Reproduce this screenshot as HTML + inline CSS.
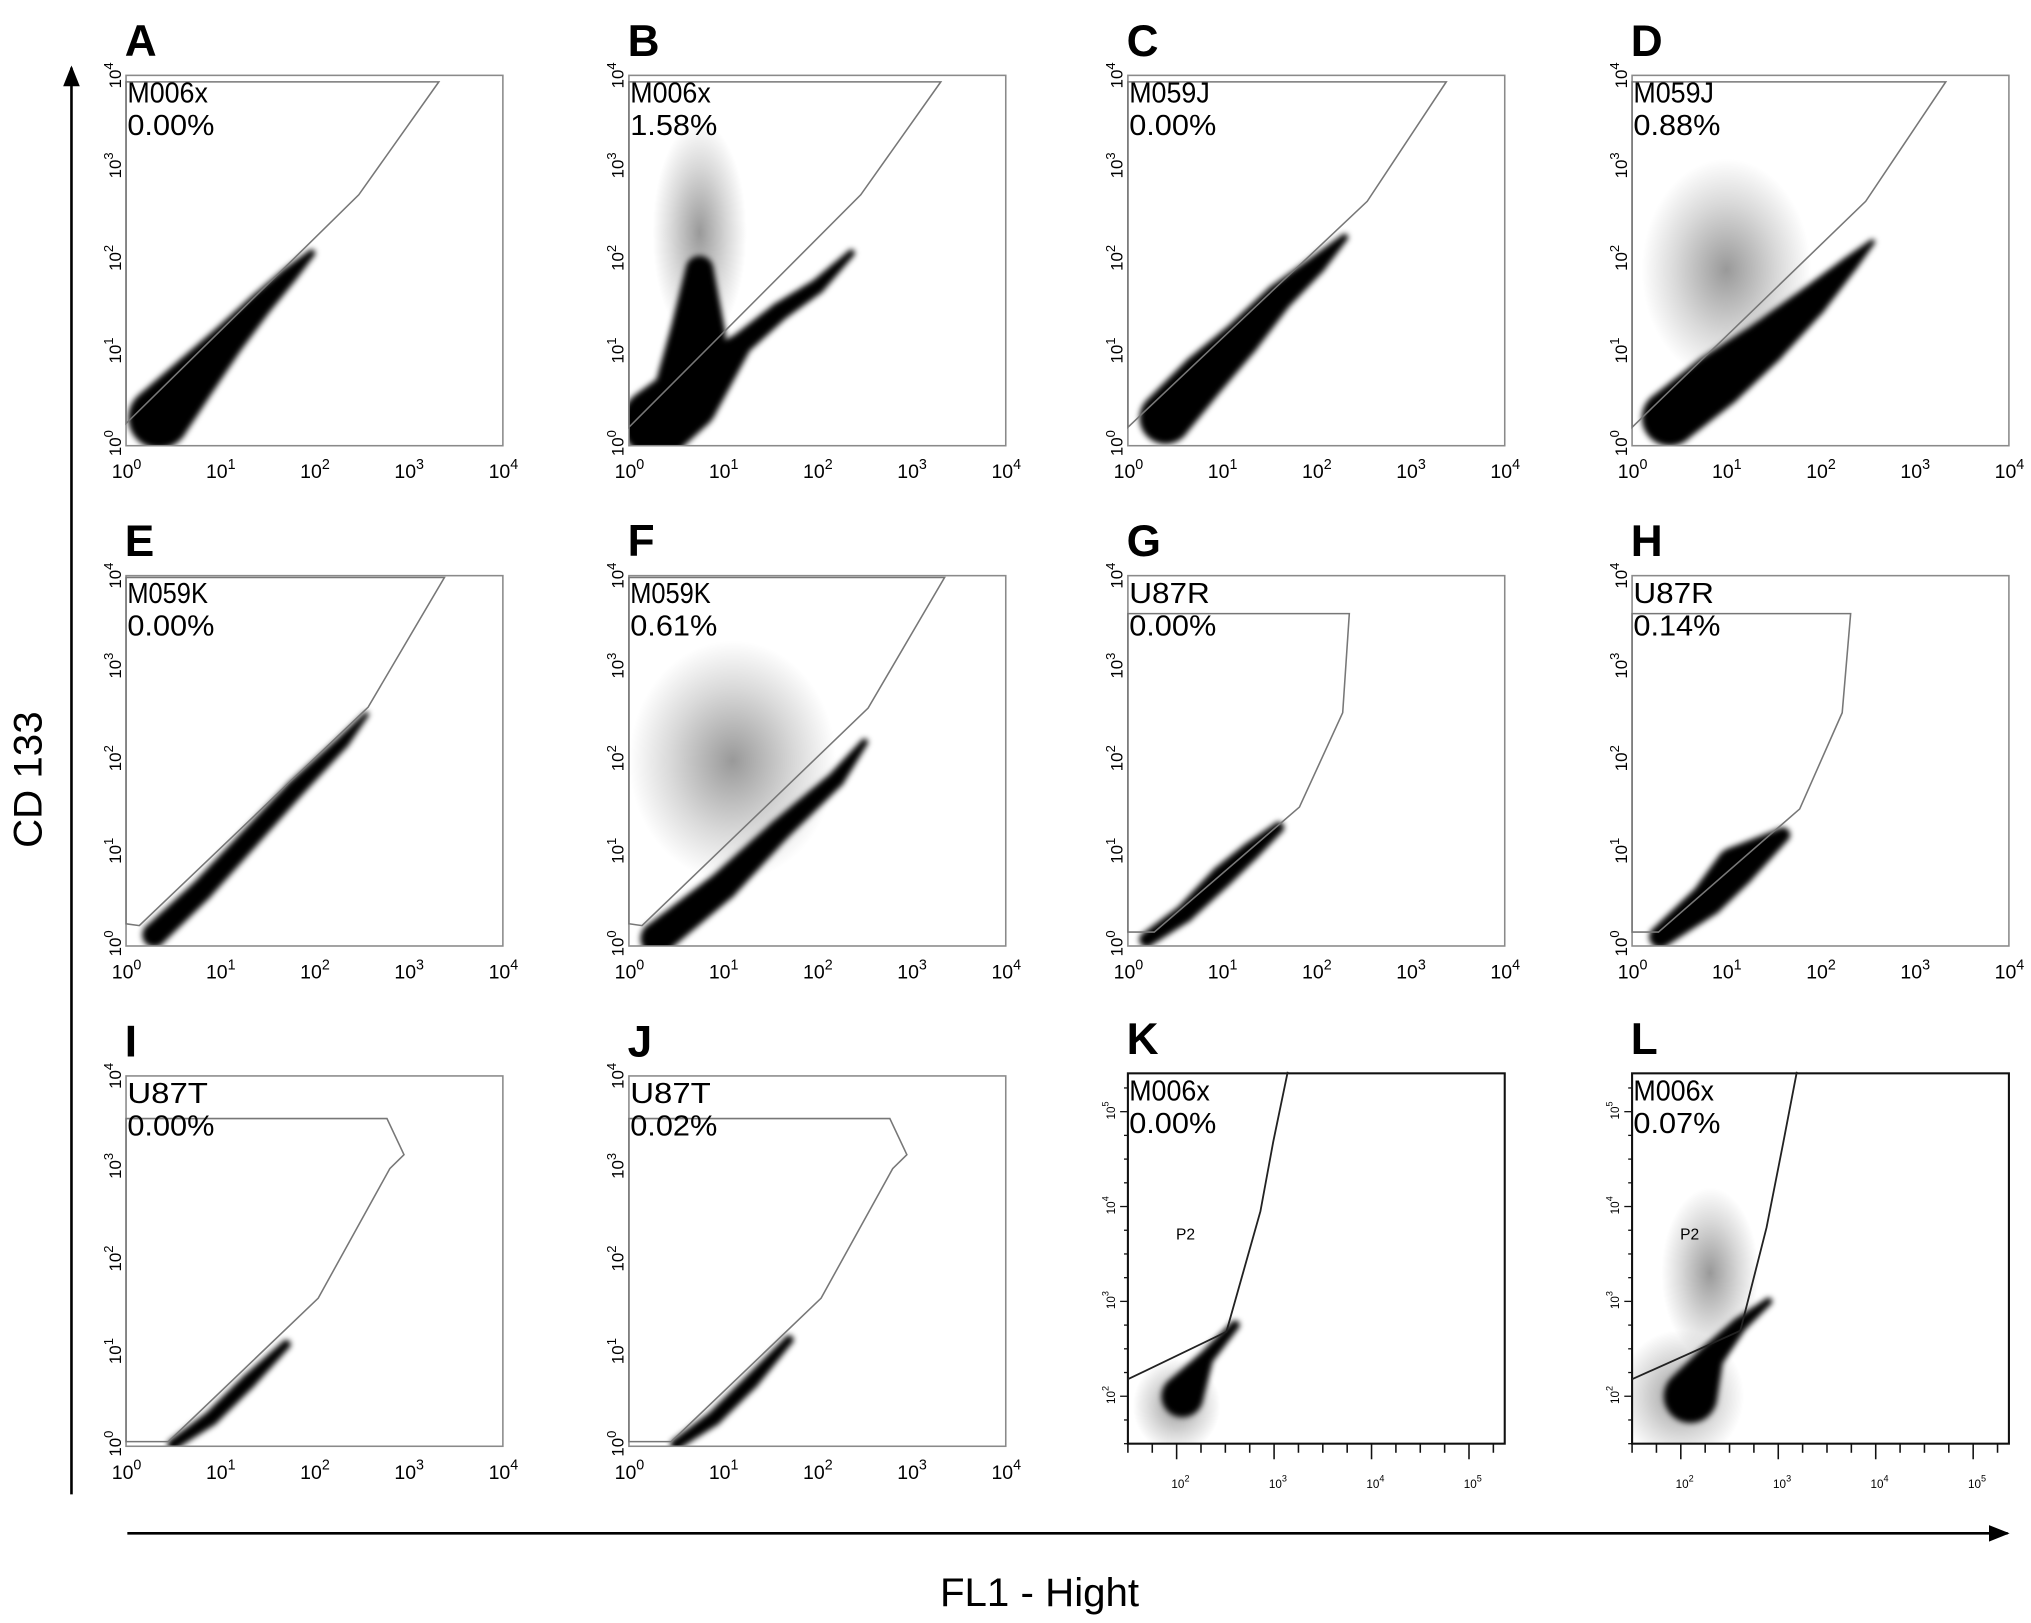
<!DOCTYPE html>
<html><head><meta charset="utf-8"><style>
html,body{margin:0;padding:0;background:#fff;}
svg{display:block;}
text{font-family:"Liberation Sans",sans-serif;}
</style></head><body>
<svg id="fig" width="2031" height="1623" viewBox="0 0 1563 1249" preserveAspectRatio="none" xmlns="http://www.w3.org/2000/svg">
<defs>
<filter id="blur" x="-20%" y="-20%" width="140%" height="140%"><feGaussianBlur stdDeviation="2.2"/></filter>
<radialGradient id="faint"><stop offset="0" stop-color="#000" stop-opacity="0.4"/><stop offset="0.6" stop-color="#000" stop-opacity="0.15"/><stop offset="1" stop-color="#000" stop-opacity="0"/></radialGradient>
<marker id="arr" viewBox="0 0 10 10" refX="9" refY="5" markerWidth="8" markerHeight="8" orient="auto"><path d="M0,1 L10,5 L0,9 z" fill="#000"/></marker>
</defs>
<line x1="55" y1="1150" x2="55" y2="52" stroke="#000" stroke-width="2" marker-end="url(#arr)"/>
<line x1="98" y1="1180" x2="1545" y2="1180" stroke="#000" stroke-width="2" marker-end="url(#arr)"/>
<text x="0" y="0" font-size="31" text-anchor="middle" transform="translate(32,600) rotate(-90)">CD 133</text>
<text x="800" y="1236" font-size="31" text-anchor="middle">FL1 - Hight</text>
<g id="panels"></g>
</svg>
<script>
// ---- data (log10 decades) ----
const panelLetters = ["A","B","C","D","E","F","G","H","I","J","K","L"];
const sampleNames = ["M006x","M006x","M059J","M059J","M059K","M059K","U87R","U87R","U87T","U87T","M006x","M006x"];
const percentages = ["0.00%","1.58%","0.00%","0.88%","0.00%","0.61%","0.00%","0.14%","0.00%","0.02%","0.00%","0.07%"];
const tickLabelsStd = ["0","1","2","3","4"];
const tickLabelsDiva = ["2","3","4","5"];
const gates = [
 [[0,0.24],[2.47,2.71],[3.32,3.93],[0,3.93]],
 [[0,0.2],[2.46,2.71],[3.31,3.93],[0,3.93]],
 [[0,0.2],[2.54,2.64],[3.38,3.93],[0,3.93]],
 [[0,0.2],[2.48,2.64],[3.33,3.93],[0,3.93]],
 [[0,0.24],[0.14,0.22],[2.57,2.58],[3.38,3.98],[0,3.98]],
 [[0,0.24],[0.14,0.22],[2.54,2.57],[3.35,3.98],[0,3.98]],
 [[0,0.15],[0.28,0.15],[1.82,1.5],[2.28,2.52],[2.35,3.59],[0,3.59]],
 [[0,0.15],[0.28,0.15],[1.78,1.48],[2.23,2.52],[2.32,3.59],[0,3.59]],
 [[0,0.05],[0.45,0.05],[2.04,1.6],[2.8,3.0],[2.95,3.15],[2.77,3.54],[0,3.54]],
 [[0,0.05],[0.45,0.05],[2.04,1.6],[2.8,3.0],[2.95,3.15],[2.77,3.54],[0,3.54]],
 [[1.5,2.18],[2.51,2.68],[2.86,3.95],[2.99,4.68],[3.14,5.42]],
 [[1.5,2.18],[2.61,2.69],[2.88,3.78],[3.05,4.67],[3.19,5.42]]
];
// dense population centerlines: [x, y, spread]
const clouds = [
 [[0.35,0.3,0.33],[0.73,0.74,0.25],[1.08,1.14,0.18],[1.42,1.52,0.13],[1.72,1.83,0.09],[1.97,2.08,0.04]],
 [[0.3,0.25,0.38],[0.6,0.5,0.36],[0.73,1.2,0.3],[0.75,1.9,0.15],[1.19,1.1,0.12],[1.6,1.45,0.1],[2.0,1.72,0.08],[2.36,2.08,0.04]],
 [[0.4,0.3,0.28],[0.8,0.75,0.25],[1.2,1.15,0.2],[1.6,1.6,0.15],[2.0,1.95,0.1],[2.3,2.25,0.04]],
 [[0.4,0.3,0.3],[0.9,0.7,0.3],[1.4,1.1,0.24],[1.9,1.55,0.17],[2.3,1.95,0.09],[2.55,2.2,0.03]],
 [[0.3,0.12,0.13],[0.8,0.6,0.12],[1.3,1.15,0.11],[1.8,1.7,0.1],[2.3,2.2,0.07],[2.55,2.5,0.03]],
 [[0.3,0.08,0.18],[1.0,0.65,0.16],[1.6,1.25,0.12],[2.2,1.8,0.09],[2.5,2.2,0.04]],
 [[0.2,0.07,0.08],[0.6,0.35,0.1],[1.0,0.75,0.12],[1.3,1.02,0.1],[1.6,1.28,0.06]],
 [[0.3,0.1,0.12],[0.8,0.5,0.18],[1.1,0.85,0.22],[1.6,1.2,0.08]],
 [[0.5,0.02,0.06],[0.9,0.3,0.08],[1.3,0.7,0.08],[1.7,1.1,0.05]],
 [[0.5,0.02,0.06],[0.9,0.3,0.08],[1.3,0.7,0.08],[1.7,1.15,0.05]],
 [[2.06,2.0,0.22],[2.3,2.4,0.08],[2.6,2.75,0.05]],
 [[2.1,2.0,0.28],[2.3,2.4,0.14],[2.6,2.75,0.08],[2.9,3.0,0.04]]
];
// faint off-diagonal populations: [x, y, spreadX, spreadY]
const faintClouds = [
 [], [[0.75,2.3,0.5,1.2]], [], [[1.0,1.9,0.9,1.2]],
 [], [[1.1,2.0,1.1,1.3]], [], [],
 [], [], [[2.0,1.9,0.45,0.5]], [[2.0,2.0,0.65,0.7],[2.3,3.3,0.5,0.9]]
];
// ---- layout ----
const colX = [97,484,868,1256];
const rowY = [58,443,828];
const BW = 290, BH = 285;
const NS = "http://www.w3.org/2000/svg";
function mk(tag, attrs, parent){const e=document.createElementNS(NS,tag);for(const k in attrs)e.setAttribute(k,attrs[k]);parent.appendChild(e);return e;}
const root = document.getElementById("panels");
for(let i=0;i<12;i++){
  const bx=colX[i%4], by=rowY[Math.floor(i/4)] - (i>=10?2:0);
  const diva = i>=10;
  const x0 = diva?1.5:0, y0 = diva?1.5:0;
  const dx = diva?75:BW/4, dy = diva?73:BH/4;
  const sx = v => bx + (v-x0)*dx;
  const sy = v => by + BH - (v-y0)*dy;
  const g = mk("g",{},root);
  
  
  const clipId="clip"+i;
  const cp=mk("clipPath",{id:clipId},g); mk("rect",{x:bx,y:by,width:BW,height:BH},cp);
  const fg=mk("g",{"clip-path":"url(#"+clipId+")"},g);
  faintClouds[i].forEach(c=>{
    const el=mk("ellipse",{cx:sx(c[0]),cy:sy(c[1]),rx:c[2]*dx,ry:c[3]*dy,fill:"url(#faint)"},fg);
    
    
  });
  const cg=mk("g",{"clip-path":"url(#"+clipId+")"},g);
  const bg=mk("g",{filter:"url(#blur)"},cg);
  
  
  const pts=clouds[i];
  const branchB = (i===1);
  for(let k=0;k<pts.length;k++){
    let prev = pts[k-1];
    if(branchB && k===4) prev = pts[1];
    if(k===0 || (branchB && k===2)) prev = (k===0)?null:pts[1];
    const cur=pts[k];
    if(!prev){mk("circle",{cx:sx(cur[0]),cy:sy(cur[1]),r:cur[2]*dy,fill:"#000"},bg);continue;}
    const steps=14;
    for(let s=0;s<=steps;s++){
      const t=s/steps;
      const lx=prev[0]+(cur[0]-prev[0])*t, ly=prev[1]+(cur[1]-prev[1])*t, r=prev[2]+(cur[2]-prev[2])*t;
      mk("circle",{cx:sx(lx),cy:sy(ly),r:Math.max(r*dy,1.5),fill:"#000"},bg);
    }
  }
  const box=mk("rect",{x:bx,y:by,width:BW,height:BH,fill:"none",stroke:diva?"#111":"#8a8a8a","stroke-width":diva?1.6:1.2},g);
  
  
  const gp=gates[i].map(p=>sx(p[0]).toFixed(1)+","+sy(p[1]).toFixed(1)).join(" ");
  const gate=mk(diva?"polyline":"polygon",{points:gp,fill:"none",stroke:diva?"#222":"#777","stroke-width":diva?1.4:1.2},g);
  
  
  const L=mk("text",{x:bx-1,y:by-15,"font-size":34,"font-weight":"bold"},g); L.textContent=panelLetters[i];
  
  
  const n=mk("text",{x:bx+1,y:by+21,"font-size":22,textLength:62,lengthAdjust:"spacingAndGlyphs"},g); n.textContent=sampleNames[i];
  
  
  const p=mk("text",{x:bx+1,y:by+46,"font-size":22,textLength:67,lengthAdjust:"spacingAndGlyphs"},g); p.textContent=percentages[i];
  
  
  if(diva){
    const p2=mk("text",{x:bx+37,y:by+128,"font-size":12},g); p2.textContent="P2";
    
    
    tickLabelsDiva.forEach(t=>{
      const v=+t;
      const xt=mk("text",{x:sx(v)-4,y:by+BH+34,"font-size":9},g); xt.innerHTML="10<tspan dy='-5' font-size='7'>"+t+"</tspan>";
      
      
      const yt=mk("text",{x:0,y:0,"font-size":9,transform:"translate("+(bx-10)+","+(sy(v)+6)+") rotate(-90)"},g); yt.innerHTML="10<tspan dy='-5' font-size='7'>"+t+"</tspan>";
      
      
    });
    for(let d=1.5; d<5.4; d+=0.25){
      mk("line",{x1:sx(d),y1:by+BH,x2:sx(d),y2:by+BH+(Math.abs(d-Math.round(d))<0.01?12:7),stroke:"#111","stroke-width":1.2},g);
      mk("line",{x1:bx,y1:sy(d),x2:bx-(Math.abs(d-Math.round(d))<0.01?6:3),y2:sy(d),stroke:"#111","stroke-width":1},g);
    }
  } else {
    tickLabelsStd.forEach(t=>{
      const v=+t;
      const xt=mk("text",{x:sx(v)-11,y:by+BH+25,"font-size":15},g); xt.innerHTML="10<tspan dy='-7' font-size='11'>"+t+"</tspan>";
      
      
      const yt=mk("text",{x:0,y:0,"font-size":13,transform:"translate("+(bx-4)+","+(sy(v)+(v===4?10:8))+") rotate(-90)"},g); yt.innerHTML="10<tspan dy='-6' font-size='10'>"+t+"</tspan>";
      
      
    });
  }
}
</script>
</body></html>
